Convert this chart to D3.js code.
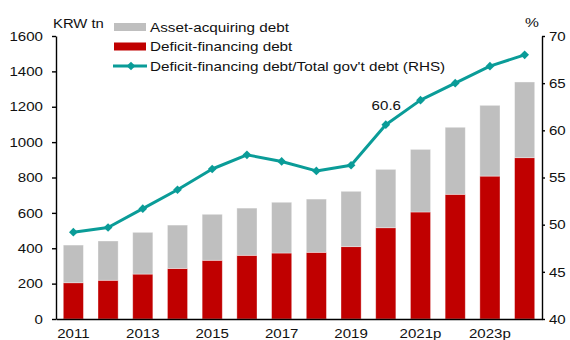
<!DOCTYPE html>
<html>
<head>
<meta charset="utf-8">
<script src="https://cdn.jsdelivr.net/npm/d3@7"></script>
<style>
  html, body { margin: 0; padding: 0; background: #fff; }
  svg { display: block; }
  text { font-family: "Liberation Sans", Arial, sans-serif; fill: #111; }
</style>
</head>
<body>
<svg id="chart" width="570" height="340"></svg>
<script>
// ---- data ----
const years = ["2011","2012","2013","2014","2015","2016","2017","2018","2019","2020","2021p","2022p","2023p","2024p"];
const deficitDebt = [205, 219, 254, 286, 332, 360, 373, 377, 409, 516, 605, 705, 808, 912];
const assetDebt   = [213, 222, 236, 245, 260, 267, 287, 301, 313, 330, 354, 379, 400, 428];
const ratioRHS    = [49.2, 49.7, 51.7, 53.7, 55.9, 57.4, 56.7, 55.7, 56.3, 60.6, 63.2, 65.0, 66.8, 68.0];
const leftTicks  = [0, 200, 400, 600, 800, 1000, 1200, 1400, 1600];
const rightTicks = [40, 45, 50, 55, 60, 65, 70];
const xLabelYears = ["2011","2013","2015","2017","2019","2021p","2023p"];
const seriesNames = ["Asset-acquiring debt", "Deficit-financing debt", "Deficit-financing debt/Total gov't debt (RHS)"];
const highlight = { year: "2020", label: "60.6" };

// ---- layout ----
const X0 = 56, X1 = 542, Y0 = 319, Y1 = 36;
const RED = "#C00000", GRAY = "#BFBFBF", TEAL = "#0A9C98";
const K = 1.16; // horizontal stretch of text seen in reference

const svg = d3.select("#chart");

const x = d3.scaleBand().domain(years).range([X0, X1]).paddingInner(0.42).paddingOuter(0.21);
const yL = d3.scaleLinear().domain([0, 1600]).range([Y0, Y1]);
const yR = d3.scaleLinear().domain([40, 70]).range([Y0, Y1]);

function stretch(sel, k) {
  sel.each(function () {
    const t = d3.select(this);
    const xx = +t.attr("x") || 0;
    t.attr("transform", `translate(${xx},0) scale(${k},1) translate(${-xx},0)`);
  });
}

// ---- bars ----
const rows = years.map((yr, i) => ({ yr, def: deficitDebt[i], asset: assetDebt[i] }));
const barG = svg.append("g");
barG.selectAll("rect.def").data(rows).join("rect")
  .attr("class", "def")
  .attr("x", d => x(d.yr)).attr("width", x.bandwidth())
  .attr("y", d => yL(d.def)).attr("height", d => yL(0) - yL(d.def))
  .attr("fill", RED).attr("stroke", "#fff").attr("stroke-opacity", 0.45).attr("stroke-width", 0.8);
barG.selectAll("rect.asset").data(rows).join("rect")
  .attr("class", "asset")
  .attr("x", d => x(d.yr)).attr("width", x.bandwidth())
  .attr("y", d => yL(d.def + d.asset)).attr("height", d => yL(d.def) - yL(d.def + d.asset))
  .attr("fill", GRAY).attr("stroke", "#fff").attr("stroke-opacity", 0.45).attr("stroke-width", 0.8);

// ---- line ----
const cx = yr => x(yr) + x.bandwidth() / 2;
const pts = years.map((yr, i) => ({ yr, v: ratioRHS[i] }));
svg.append("path").datum(pts)
  .attr("fill", "none").attr("stroke", TEAL).attr("stroke-width", 3).attr("stroke-linejoin", "round")
  .attr("d", d3.line().x(d => cx(d.yr)).y(d => yR(d.v)));
const diamond = d3.symbol().type(d3.symbolSquare).size(38);
svg.append("g").selectAll("path").data(pts).join("path")
  .attr("d", diamond)
  .attr("transform", d => `translate(${cx(d.yr)},${yR(d.v)}) rotate(45)`)
  .attr("fill", TEAL);

// data label
const hv = ratioRHS[years.indexOf(highlight.year)];
svg.append("text")
  .attr("x", cx(highlight.year) + 0.5).attr("y", yR(hv) - 15)
  .attr("text-anchor", "middle").attr("font-size", 13)
  .text(highlight.label).call(stretch, K);

// ---- axes ----
const axL = svg.append("g").attr("transform", `translate(${X0},0)`)
  .call(d3.axisLeft(yL).tickValues(leftTicks).tickFormat(d3.format("d"))
    .tickSize(4).tickSizeOuter(0).tickPadding(9));
const axR = svg.append("g").attr("transform", `translate(${X1},0)`)
  .call(d3.axisRight(yR).tickValues(rightTicks).tickFormat(d3.format("d"))
    .tickSize(3).tickSizeOuter(0).tickPadding(4));
const axB = svg.append("g").attr("transform", `translate(0,${Y0})`)
  .call(d3.axisBottom(x).tickSize(0).tickSizeOuter(0).tickPadding(10)
    .tickFormat(d => xLabelYears.includes(d) ? d : ""));

[axL, axR, axB].forEach(g => {
  g.selectAll("path.domain").attr("stroke", "#000").attr("stroke-width", 1.4);
  g.selectAll(".tick line").attr("stroke", "#000").attr("stroke-width", 1.4);
  g.selectAll(".tick text").attr("font-size", 13)
    .attr("font-family", "'Liberation Sans', Arial, sans-serif").attr("fill", "#111")
    .call(stretch, K);
});

// axis unit labels
svg.append("text").attr("x", 53).attr("y", 28).attr("font-size", 13.5)
  .text("KRW tn").call(stretch, 1.1);
svg.append("text").attr("x", 532).attr("y", 27).attr("font-size", 13.5)
  .attr("text-anchor", "middle").text("%").call(stretch, K);

// ---- legend ----
const lg = svg.append("g");
const rowsY = [27, 46.5, 66];
lg.append("rect").attr("x", 114).attr("y", rowsY[0] - 4).attr("width", 32).attr("height", 8).attr("fill", GRAY);
lg.append("rect").attr("x", 114).attr("y", rowsY[1] - 4).attr("width", 32).attr("height", 8).attr("fill", RED);
lg.append("line").attr("x1", 113).attr("x2", 147).attr("y1", rowsY[2]).attr("y2", rowsY[2])
  .attr("stroke", TEAL).attr("stroke-width", 3);
lg.append("path").attr("d", diamond).attr("transform", `translate(131,${rowsY[2]}) rotate(45)`).attr("fill", TEAL);
seriesNames.forEach((n, i) => {
  lg.append("text").attr("x", 150).attr("y", rowsY[i] + 5).attr("font-size", 13.5)
    .text(n).call(stretch, 1.13);
});
</script>
</body>
</html>
